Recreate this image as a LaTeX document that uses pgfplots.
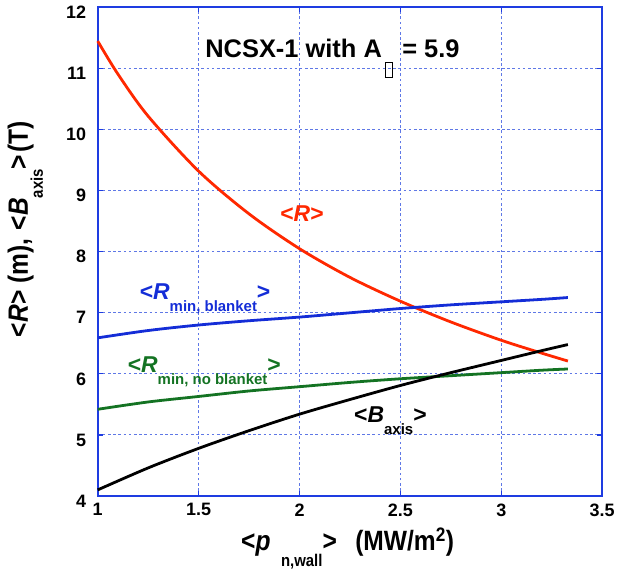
\documentclass[border=0pt]{standalone}
\usepackage{pgfplots}
\pgfplotsset{compat=1.18}
\usepackage{fontspec}
\setmainfont{Liberation Sans}
\definecolor{cred}{RGB}{255,40,0}
\definecolor{cblue}{RGB}{20,45,215}
\definecolor{cgreen}{RGB}{20,115,35}
\definecolor{axblue}{RGB}{30,60,225}
\definecolor{gridblue}{RGB}{95,120,230}
\newcommand{\lblfont}{\fontsize{23}{23}\selectfont\bfseries}
\newcommand{\subfont}{\fontsize{15}{15}\selectfont\bfseries}
\begin{document}
\begin{tikzpicture}
\begin{axis}[
  scale only axis, width=506pt, height=490pt,
  xmin=1, xmax=3.5, ymin=4, ymax=12,
  xtick={1,1.5,2,2.5,3,3.5}, ytick={4,5,6,7,8,9,10,11,12},
  grid=major,
  major grid style={gridblue, line width=1.1pt, dash pattern=on 2.6pt off 2.6pt},
  axis line style={axblue, line width=2pt},
  tick style={axblue, line width=1.2pt},
  tick align=inside, major tick length=5pt,
  /pgf/number format/assume math mode=true,
  xticklabel style={font=\fontsize{18}{18}\selectfont\bfseries, yshift=-4pt},
  yticklabel style={font=\fontsize{18}{18}\selectfont\bfseries, xshift=-8pt, yshift=-5pt},
  clip=false,
]
\addplot[cred, line width=2.8pt, smooth] coordinates {
 (1,11.45) (1.1,10.91) (1.25,10.22) (1.5,9.32) (1.75,8.62) (2,8.05) (2.25,7.58)
 (2.5,7.19) (2.75,6.85) (3,6.55) (3.2,6.34) (3.33,6.21)};
\addplot[cblue, line width=2.8pt, smooth] coordinates {
 (1,6.59) (1.25,6.71) (1.5,6.80) (1.75,6.87) (2,6.93) (2.25,7.00) (2.5,7.07)
 (2.75,7.13) (3,7.18) (3.2,7.22) (3.33,7.25)};
\addplot[cgreen, line width=2.8pt, smooth] coordinates {
 (1,5.42) (1.25,5.54) (1.5,5.63) (1.75,5.72) (2,5.79) (2.25,5.86) (2.5,5.92)
 (2.75,5.97) (3,6.02) (3.2,6.06) (3.33,6.08)};
\addplot[black, line width=2.8pt, smooth] coordinates {
 (1,4.10) (1.25,4.46) (1.5,4.78) (1.75,5.07) (2,5.34) (2.25,5.58) (2.5,5.81)
 (2.75,6.02) (3,6.22) (3.2,6.38) (3.33,6.48)};

\node[cred, anchor=base west, inner sep=0pt] at (axis cs:1.904,8.50)
  {\lblfont <\textit{R}>};
\node[cblue, anchor=base west, inner sep=0pt] at (axis cs:1.2075,7.22)
  {\lblfont <\textit{R}\raisebox{-12pt}{\subfont min, blanket}>};
\node[cgreen, anchor=base west, inner sep=0pt] at (axis cs:1.148,6.03)
  {\lblfont <\textit{R}\raisebox{-12pt}{\subfont min, no blanket}>};
\node[black, anchor=base west, inner sep=0pt] at (axis cs:2.27,5.21)
  {\lblfont <\textit{B}\raisebox{-12pt}{\subfont axis}>};

\node[anchor=base west, inner sep=0pt] at (rel axis cs:0.213,0.8986)
  {\fontsize{25.5}{25.5}\selectfont\bfseries NCSX-1 with A\hspace{3pt}\raisebox{-19.7pt}{\setlength\fboxsep{0pt}\setlength\fboxrule{1.4pt}\fbox{\rule{5.5pt}{0pt}\rule{0pt}{13.5pt}}}\hspace{2pt} = 5.9};

\node[anchor=base west, inner sep=0pt] at ([yshift=-55pt]rel axis cs:0.284,0)
  {\scalebox{0.88}[1]{\fontsize{28}{28}\selectfont\bfseries <\textit{p}\hspace{12pt}\raisebox{-16pt}{\fontsize{17}{17}\selectfont n,wall}>\hspace{21pt}(MW/m\textsuperscript{2})}};

\node[anchor=base west, inner sep=0pt, rotate=90] at ([xshift=-70pt]rel axis cs:0,0.325)
  {\scalebox{0.88}[1]{\fontsize{28}{28}\selectfont\bfseries <\textit{R}> (m), \hspace{2pt}<\textit{B}\raisebox{-15pt}{\fontsize{17}{17}\selectfont axis}>\hspace{2pt}(T)}};
\end{axis}
\path ([shift={(-98pt,-77.5pt)}]current axis.south west) rectangle ([shift={(14pt,7.5pt)}]current axis.north east);
\end{tikzpicture}
\end{document}
